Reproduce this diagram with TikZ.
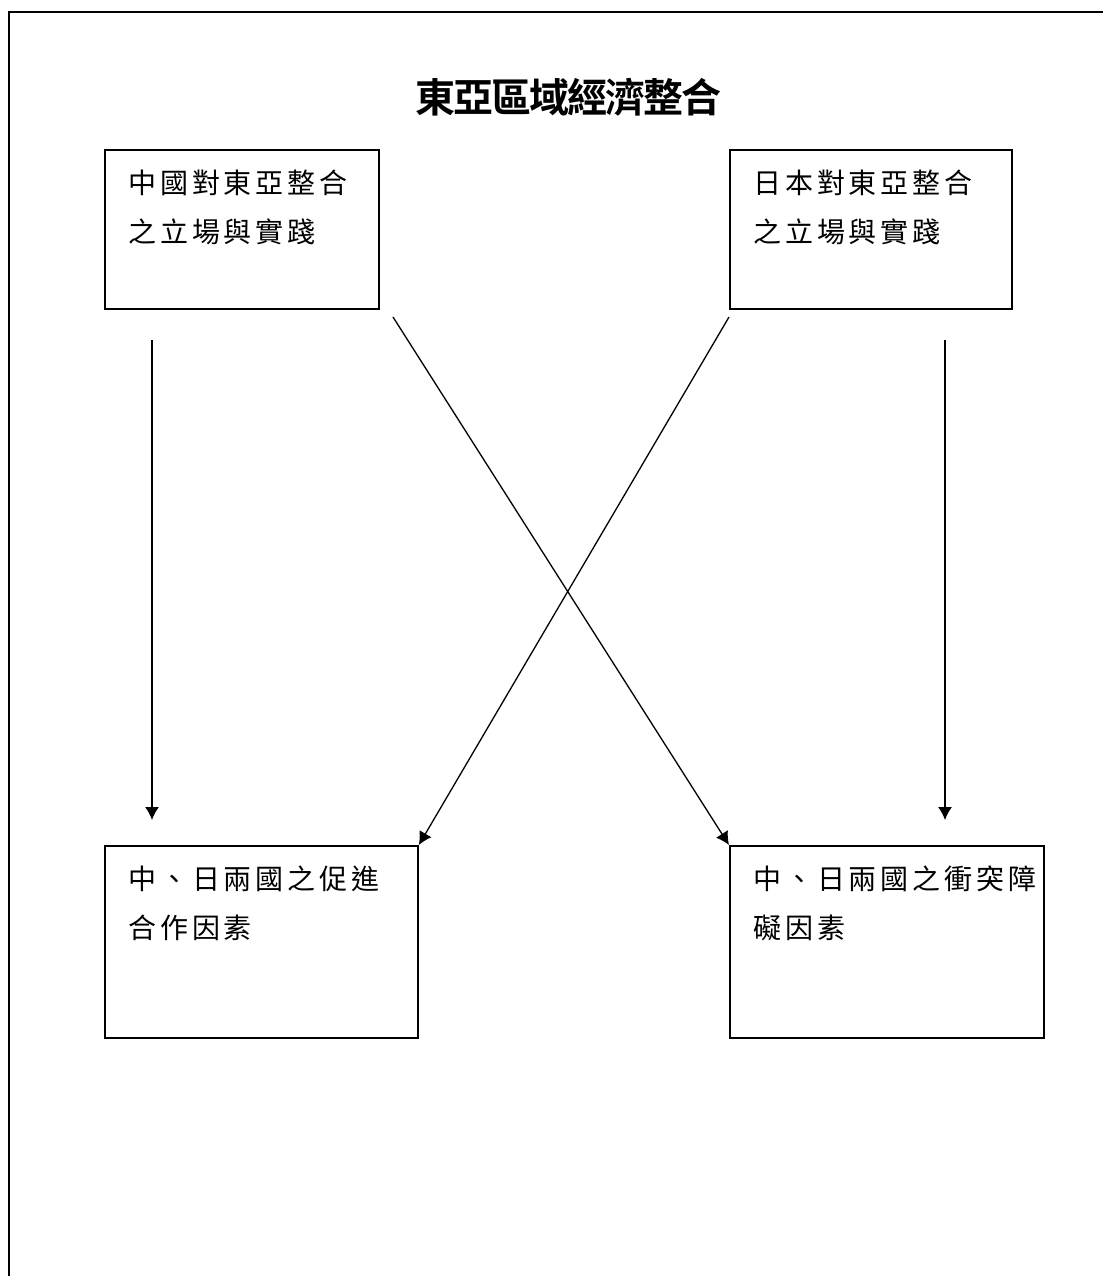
\documentclass[tikz,border=0pt]{standalone}
\usepackage{fontspec}
\newfontfamily\cjk[LetterSpace=14]{Noto Sans CJK TC}
\newfontfamily\cjkbold[LetterSpace=-5]{Noto Sans CJK TC Bold}
\usetikzlibrary{arrows.meta}
\tikzset{
  box/.style={draw, line width=1.8pt, anchor=north west, inner sep=0pt},
  boxtext/.style={anchor=north west, align=left, inner xsep=24pt, inner ysep=21pt,
    font=\cjk\fontsize{28}{49}\selectfont},
  link/.style={line width=1.3pt, -{Latex[length=13pt,width=14pt]}}
}
\begin{document}
\begin{tikzpicture}[x=1pt,y=-1pt]
\useasboundingbox (0,0) rectangle (1103,1276);
\draw[line width=2pt] (9,1276) |- (1103,12);
\node[font=\cjkbold\fontsize{40}{40}\selectfont] (title) at (568,97) {東亞區域經濟整合};
\node[box, minimum width=274pt, minimum height=159pt,
  label={[boxtext]north west:{中國對東亞整合\\之立場與實踐}}] (china) at (104,149) {};
\node[box, minimum width=282pt, minimum height=159pt,
  label={[boxtext]north west:{日本對東亞整合\\之立場與實踐}}] (japan) at (729,149) {};
\node[box, minimum width=313pt, minimum height=192pt,
  label={[boxtext]north west:{中、日兩國之促進\\合作因素}}] (coop) at (104,845) {};
\node[box, minimum width=314pt, minimum height=192pt,
  label={[boxtext]north west:{中、日兩國之衝突障\\礙因素}}] (conflict) at (729,845) {};
\coordinate (chinadown) at (152,340);
\coordinate (chinacross) at (393,317);
\coordinate (japancross) at (729,317);
\coordinate (japandown) at (945,340);
\draw[link, shorten >=25pt] (chinadown) -- (chinadown |- coop.north);
\draw[link] (chinacross) -- (conflict.north west);
\draw[link] (japancross) -- (coop.north east);
\draw[link, shorten >=25pt] (japandown) -- (japandown |- conflict.north);
\end{tikzpicture}
\end{document}
